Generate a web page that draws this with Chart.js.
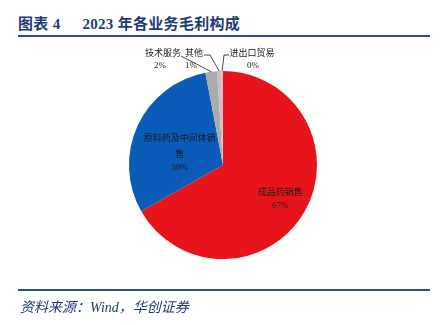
<!DOCTYPE html>
<html><head><meta charset="utf-8">
<script src="https://cdn.jsdelivr.net/npm/chart.js@4.4.0/dist/chart.umd.min.js"></script>
<style>
html,body{margin:0;padding:0;background:#fff;}
#wrap{position:relative;width:440px;height:325px;overflow:hidden;}
#title{position:absolute;left:18px;top:12px;font-family:"Liberation Serif","Noto Sans CJK SC",serif;font-weight:bold;font-size:15px;color:#1F3B73;white-space:pre;letter-spacing:0.3px;}
#title span{margin-left:22px;}
.rule{position:absolute;left:18px;width:412px;height:2px;background:#2A4F8F;}
#src{position:absolute;left:20px;top:296px;font-family:"Liberation Serif","Noto Sans CJK SC",serif;font-style:italic;font-size:14px;color:#1F3B73;white-space:pre;}
#c{position:absolute;left:0;top:40px;}
</style></head>
<body><div id="wrap">
<div id="title">图表 4<span>2023 年各业务毛利构成</span></div>
<div class="rule" style="top:35px"></div>
<canvas id="c" width="440" height="250"></canvas>
<div class="rule" style="top:289px"></div>
<div id="src">资料来源：Wind，华创证券</div>
</div>
<script>
const categories = ["成品药销售", "原料药及中间体销售", "技术服务", "其他", "进出口贸易"];
const values = [66.8, 30.2, 2.0, 0.7, 0.3];
const pctLabels = ["67%", "30%", "2%", "1%", "0%"];
const colors = ["#E8141B", "#0A5CB8", "#ABABAB", "#C9C0C2", "#F2B4BE"];

const labelPlugin = {
  id: 'labels',
  afterDatasetsDraw(chart) {
    const ctx = chart.ctx;
    const meta = chart.getDatasetMeta(0);
    const cx = meta.data[0].x, cy = meta.data[0].y, r = meta.data[0].outerRadius;
    const cjk = '9px "Noto Sans CJK SC", sans-serif';
    const ser = '9px "Liberation Serif", serif';
    ctx.save();
    ctx.fillStyle = '#1a1a1a';
    ctx.textAlign = 'center';
    ctx.textBaseline = 'middle';
    const mid = i => (meta.data[i].startAngle + meta.data[i].endAngle) / 2;
    {
      const a = mid(0);
      const x = cx + Math.cos(a) * r * 0.62 + 7, y = cy + Math.sin(a) * r * 0.62 - 3;
      ctx.font = cjk; ctx.fillText(categories[0], x, y);
      ctx.font = ser; ctx.fillText(pctLabels[0], x, y + 14);
    }
    {
      const a = mid(1);
      const x = cx + Math.cos(a) * r * 0.52 + 1, y = cy + Math.sin(a) * r * 0.52 - 7;
      ctx.font = cjk;
      ctx.fillText(categories[1].slice(0, 8), x, y);
      ctx.fillText(categories[1].slice(8), x, y + 16);
      ctx.font = ser; ctx.fillText(pctLabels[1], x, y + 30);
    }
    const outer = [
      {i: 2, tx: cx - 60, ty: cy - 112, px: cx - 63, py: cy - 99, line: (e) => [[cx - 42, cy - 109], [e.x, e.y]]},
      {i: 3, tx: cx - 29, ty: cy - 112, px: cx - 32, py: cy - 99, line: (e) => [[cx - 19, cy - 110], [cx - 13, cy - 110], [e.x, e.y]]},
      {i: 4, tx: cx + 29, ty: cy - 112, px: cx + 30, py: cy - 99, line: (e) => [[cx + 6, cy - 110], [cx + 1, cy - 110], [e.x, e.y]]}
    ];
    ctx.strokeStyle = '#1a1a1a';
    ctx.lineWidth = 0.8;
    outer.forEach(o => {
      const a = mid(o.i);
      const e = {x: cx + Math.cos(a) * r, y: cy + Math.sin(a) * r};
      const pts = o.line(e);
      ctx.beginPath();
      ctx.moveTo(pts[0][0], pts[0][1]);
      for (let k = 1; k < pts.length; k++) ctx.lineTo(pts[k][0], pts[k][1]);
      ctx.stroke();
      ctx.font = cjk; ctx.fillText(categories[o.i], o.tx, o.ty);
      ctx.font = ser; ctx.fillText(pctLabels[o.i], o.px, o.py);
    });
    ctx.restore();
  }
};

new Chart(document.getElementById('c'), {
  type: 'pie',
  data: { labels: categories, datasets: [{ data: values, backgroundColor: colors, borderWidth: 0 }] },
  options: {
    responsive: false,
    animation: false,
    layout: { padding: { top: 31, bottom: 31, left: 129, right: 123 } },
    plugins: { legend: { display: false }, tooltip: { enabled: false } }
  },
  plugins: [labelPlugin]
});
</script>
</body></html>
